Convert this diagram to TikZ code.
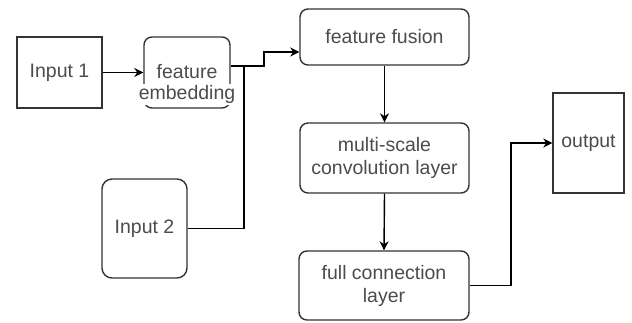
\documentclass[tikz,border=0pt]{standalone}
\usepackage{fontspec}
\setmainfont{Liberation Sans}
\usetikzlibrary{arrows.meta}
\begin{document}
\begin{tikzpicture}[x=1pt,y=-1pt,
  box/.style={draw=black!80,line width=1.4pt,inner sep=0pt,align=center,
    text=black!70,font=\fontsize{19.5}{23}\selectfont},
  sq/.style={box},
  rbox/.style={box,rounded corners=8pt},
  lbl/.style={inner sep=0pt,align=center,text=black!70,font=\fontsize{19.5}{23}\selectfont},
  conn/.style={draw=black,line width=1.4pt},
  arr/.style={conn,-{Stealth[length=9pt,width=9pt]}}
]
\useasboundingbox (0,0) rectangle (632,322);
\fill[white] (0,0) rectangle (632,322);

\node[sq,minimum width=85pt,minimum height=71pt] (in1) at (59.5,72.5) {Input 1};
\node[rbox,minimum width=86pt,minimum height=71pt] (emb) at (187,72.5) {};
\node[lbl] (embl) at (187,85) {feature\\[-2pt]{\fboxsep=1.5pt\colorbox{white}{embedding}}};
\node[rbox,rounded corners=10pt,minimum width=85pt,minimum height=99pt] (in2) at (144.5,228.5) {Input 2};
\node[rbox,minimum width=169pt,minimum height=56pt] (fus) at (384.5,37) {feature fusion};
\node[rbox,minimum width=169pt,minimum height=70pt] (ms) at (384.5,158) {multi-scale\\convolution layer};
\node[rbox,minimum width=170pt,minimum height=69pt] (fc) at (384,285.5) {full connection\\layer};
\node[sq,minimum width=71pt,minimum height=100pt] (out) at (588.5,143) {output};

\coordinate (ja) at (244,66);
\coordinate (jb) at (264,52);
\coordinate (jc) at (511,143);

\draw[arr] (in1.east) -- (emb.west);
\draw[arr] (emb.east |- ja) -- (jb |- ja) -- (jb) -- (fus.west |- jb);
\draw[conn] (in2.east) -- (ja |- in2.east) -- (ja);
\draw[arr] (fus.south) -- (ms.north);
\draw[arr] (ms.south) -- (fc.north);
\draw[arr] (fc.east) -| (jc) -- (out.west);
\end{tikzpicture}
\end{document}
